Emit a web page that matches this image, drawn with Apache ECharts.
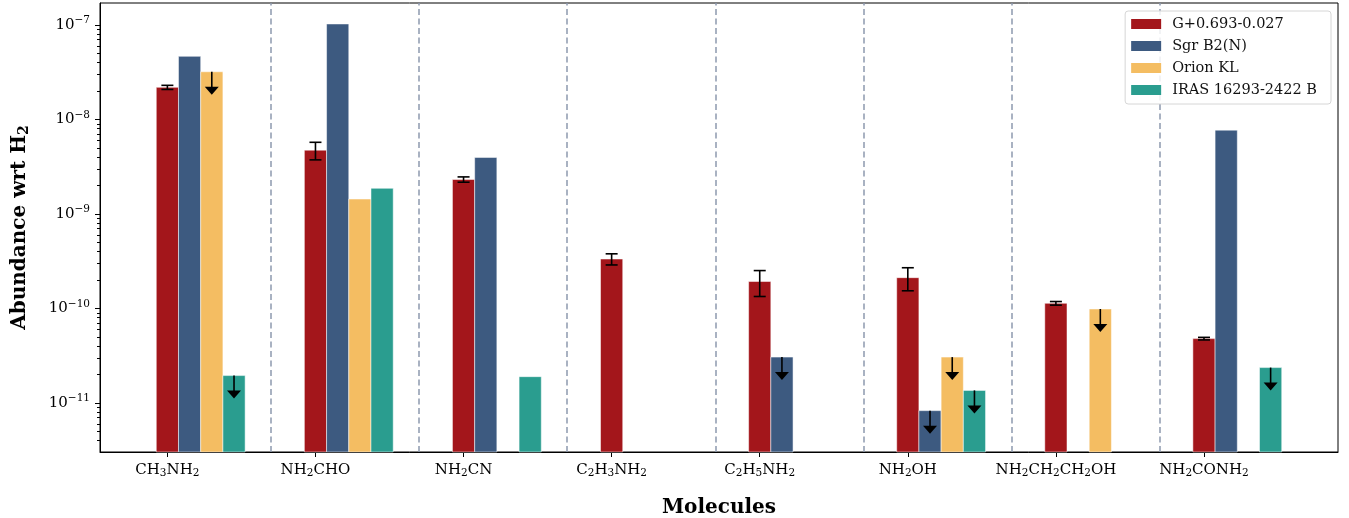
<!DOCTYPE html>
<html>
<head>
<meta charset="utf-8">
<script src="https://cdn.jsdelivr.net/npm/echarts@6/dist/echarts.min.js"></script>
<style>
  html, body { margin: 0; padding: 0; background: #fff; }
  #main { width: 1349px; height: 518px; }
</style>
</head>
<body>
<div id="main"></div>
<script>
var chartDom = document.getElementById('main');
var myChart = echarts.init(chartDom);

// molecules (digits are drawn as subscripts)
const molecules = ['CH3NH2', 'NH2CHO', 'NH2CN', 'C2H3NH2', 'C2H5NH2', 'NH2OH', 'NH2CH2CH2OH', 'NH2CONH2'];
const sources = ['G+0.693-0.027', 'Sgr B2(N)', 'Orion KL', 'IRAS 16293-2422 B'];
const colors = ['#a3161b', '#3d5a80', '#f4bd62', '#2a9d8f'];

// abundances wrt H2 (null = no value)
const g0693 = [2.19e-8, 4.74e-9, 2.32e-9, 3.34e-10, 1.93e-10, 2.12e-10, 1.135e-10, 4.8e-11];
const g0693Err = [1.1e-9, 1.0e-9, 1.5e-10, 4.5e-11, 5.9e-11, 5.8e-11, 5e-12, 1.5e-12];
const sgrB2 = [4.66e-8, 1.026e-7, 3.97e-9, null, 3.06e-11, 8.3e-12, null, 7.72e-9];
const orion = [3.2e-8, 1.44e-9, null, null, null, 3.06e-11, 9.88e-11, null];
const iras = [1.95e-11, 1.87e-9, 1.9e-11, null, null, 1.36e-11, null, 2.37e-11];
// upper limits (arrow down)
const sgrB2Lim = [0, 0, 0, 0, 1, 1, 0, 0];
const orionLim = [1, 0, 0, 0, 0, 1, 1, 0];
const irasLim = [1, 0, 0, 0, 0, 1, 0, 1];

const yTicks = [1e-11, 1e-10, 1e-9, 1e-8, 1e-7];
const separators = [0.7, 1.7, 2.7, 3.7, 4.7, 5.7, 6.7];

const yMin = 3.03e-12, yMax = 1.71e-7;
const barW = 0.15;
const font = 'DejaVu Serif';

// minor ticks of the log axis: 2..9 x 10^n
const minorTicks = [];
for (let e = -12; e <= -7; e++) {
    for (let k = 2; k <= 9; k++) {
        const v = k * Math.pow(10, e);
        if (v > yMin && v < yMax) minorTicks.push(v);
    }
}

function subFormula(s) {
    return s.replace(/([A-Za-z]+)|(\d+)/g, function (m, a, d) {
        return a ? '{n|' + a + '}' : '{s|' + d + '}';
    });
}

function buildData(vals, errs, lims, k) {
    const out = [];
    vals.forEach(function (v, i) {
        if (v == null) return;
        out.push([i + k * barW, v, errs ? errs[i] : 0, lims ? lims[i] : 0]);
    });
    return out;
}

function renderBar(params, api) {
    const x = api.value(0), v = api.value(1), err = api.value(2), lim = api.value(3);
    const top = api.coord([x, v]);
    const base = api.coord([x, yMin]);
    const w = api.size([barW, 0])[0];
    const cx = top[0];
    const children = [{
        type: 'rect',
        shape: { x: cx - w / 2, y: top[1], width: w, height: base[1] - top[1] },
        style: { fill: api.visual('color'), stroke: 'rgba(255,255,255,0.5)', lineWidth: 1 }
    }];
    const ls = { stroke: '#000', lineWidth: 1.6 };
    if (err > 0) {
        const hi = api.coord([x, v + err])[1];
        const lo = api.coord([x, v - err])[1];
        children.push({ type: 'line', shape: { x1: cx, y1: hi, x2: cx, y2: lo }, style: ls });
        children.push({ type: 'line', shape: { x1: cx - 6, y1: hi, x2: cx + 6, y2: hi }, style: ls });
        children.push({ type: 'line', shape: { x1: cx - 6, y1: lo, x2: cx + 6, y2: lo }, style: ls });
    }
    if (lim) {
        const y0 = top[1];
        children.push({ type: 'line', shape: { x1: cx, y1: y0, x2: cx, y2: y0 + 16 }, style: ls });
        children.push({
            type: 'polygon',
            shape: { points: [[cx - 7, y0 + 15], [cx + 7, y0 + 15], [cx, y0 + 23]] },
            style: { fill: '#000' }
        });
    }
    return { type: 'group', children: children };
}

const seriesData = [
    buildData(g0693, g0693Err, null, 0),
    buildData(sgrB2, null, sgrB2Lim, 1),
    buildData(orion, null, orionLim, 2),
    buildData(iras, null, irasLim, 3)
];

const series = sources.map(function (name, k) {
    return {
        name: name,
        type: 'custom',
        renderItem: renderBar,
        itemStyle: { color: colors[k] },
        encode: { x: 0, y: 1 },
        data: seriesData[k],
        z: 3
    };
});
series[0].markLine = {
    silent: true,
    symbol: 'none',
    label: { show: false },
    lineStyle: { color: '#8d99ae', width: 1.5, type: [6, 3.5] },
    data: separators.map(function (x) { return { xAxis: x }; }),
    z: 1
};

const subRich = {
    n: { fontFamily: font, fontSize: 15, color: '#000', lineHeight: 20 },
    s: { fontFamily: font, fontSize: 10.5, color: '#000', padding: [7, 0, 0, 0] }
};

let option = {
    animation: false,
    grid: {
        left: 100, right: 11, top: 3, bottom: 66,
        outerBoundsMode: 'none',
        containLabel: false,
        show: true, borderColor: '#000', borderWidth: 1
    },
    legend: {
        orient: 'vertical',
        right: 18,
        top: 11,
        align: 'left',
        itemWidth: 30,
        itemHeight: 10,
        itemGap: 6,
        icon: 'rect',
        padding: [5, 14, 6, 6],
        backgroundColor: 'rgba(255,255,255,0.85)',
        borderColor: '#d6d6d6',
        borderWidth: 1,
        borderRadius: 3,
        textStyle: { fontFamily: font, fontSize: 14.5, color: '#111', lineHeight: 16, padding: [0, 0, 0, 6] },
        data: sources
    },
    xAxis: {
        type: 'value',
        min: -0.455,
        max: 7.905,
        name: 'Molecules',
        nameLocation: 'middle',
        nameGap: 46,
        nameTextStyle: { fontFamily: font, fontSize: 20, fontWeight: 'bold', color: '#000' },
        axisLine: { show: true, onZero: false, lineStyle: { color: '#000', width: 1 } },
        axisTick: { show: true, length: 5, lineStyle: { color: '#000' }, customValues: [0, 1, 2, 3, 4, 5, 6, 7] },
        axisLabel: {
            margin: 8,
            customValues: [0, 1, 2, 3, 4, 5, 6, 7],
            formatter: function (v) { return subFormula(molecules[Math.round(v)]); },
            rich: subRich
        },
        splitLine: { show: false }
    },
    yAxis: [{
        type: 'log',
        logBase: 10,
        min: yMin,
        max: yMax,
        name: '{t|Abundance wrt H}{s|2}',
        nameLocation: 'middle',
        nameGap: 69,
        nameTextStyle: {
            rich: {
                t: { fontFamily: font, fontSize: 20, fontWeight: 'bold', color: '#000' },
                s: { fontFamily: font, fontSize: 14, fontWeight: 'bold', color: '#000', padding: [8, 0, 0, 0] }
            }
        },
        axisLine: { show: true, onZero: false, lineStyle: { color: '#000', width: 1 } },
        axisTick: { show: true, length: 5, lineStyle: { color: '#000' }, customValues: yTicks },
        axisLabel: {
            margin: 10,
            customValues: yTicks,
            formatter: function (v) {
                const e = Math.round(Math.log10(v));
                return '{b|10}{e|\u2212' + Math.abs(e) + '}';
            },
            rich: {
                b: { fontFamily: font, fontSize: 15, color: '#000', lineHeight: 20 },
                e: { fontFamily: font, fontSize: 10.5, color: '#000', padding: [0, 0, 9, 0] }
            }
        },
        splitLine: { show: false }
    }, {
        type: 'log',
        logBase: 10,
        min: yMin,
        max: yMax,
        position: 'left',
        axisLine: { show: false, onZero: false },
        axisTick: { show: true, length: 3, lineStyle: { color: '#000' }, customValues: minorTicks },
        axisLabel: { show: false },
        splitLine: { show: false }
    }],
    series: series
};

option && myChart.setOption(option);
</script>
</body>
</html>
